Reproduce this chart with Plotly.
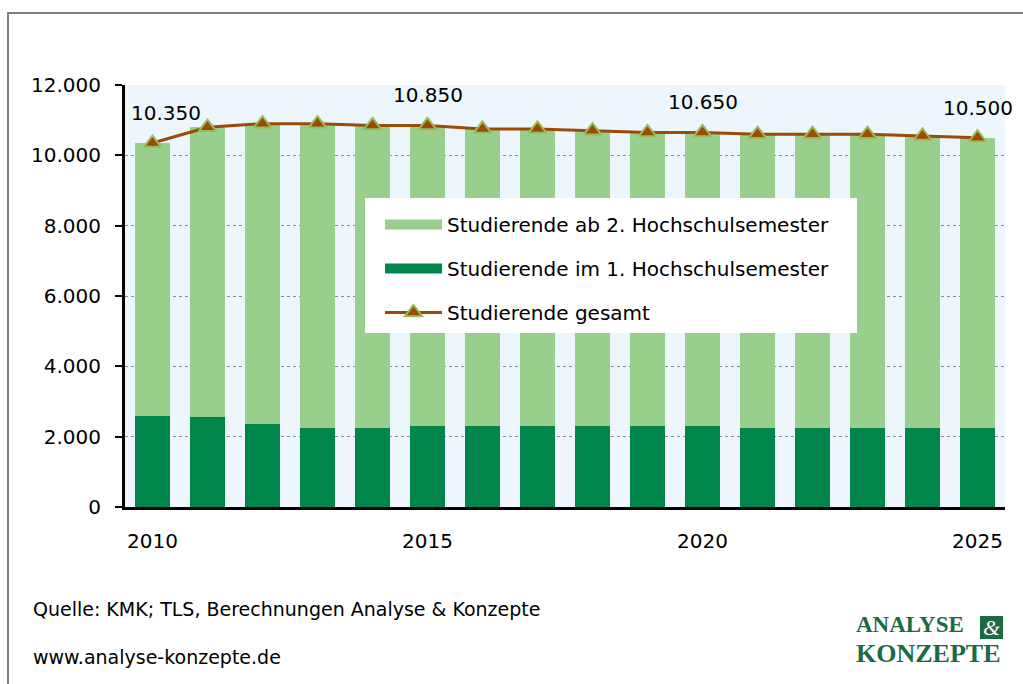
import plotly.graph_objects as go

years = [str(y) for y in range(2010, 2026)]
total = [10350, 10800, 10900, 10900, 10850, 10850, 10750, 10750, 10700, 10650,
         10650, 10600, 10600, 10600, 10550, 10500]
first_sem = [2600, 2550, 2350, 2250, 2250, 2300, 2300, 2300, 2300, 2300,
             2300, 2250, 2250, 2250, 2250, 2250]
higher_sem = [t - f for t, f in zip(total, first_sem)]
label_years = ["2010", "2015", "2020", "2025"]
y_ticks = [0, 2000, 4000, 6000, 8000, 10000, 12000]
y_ticktext = ["0", "2.000", "4.000", "6.000", "8.000", "10.000", "12.000"]

FONT = "DejaVu Sans"
LIGHT = "#99CF8C"
DARK = "#00854A"
BROWN = "#9C4A08"
OLIVE = "#9BBB59"
LOGO = "#1B6A46"

NAME_HI = "Studierende ab 2. Hochschulsemester"
NAME_LO = "Studierende im 1. Hochschulsemester"
NAME_TOT = "Studierende gesamt"

def px(xp):
    return (xp - 125) / 880

def py(yp):
    return (507 - yp) / 422

fig = go.Figure()
fig.add_trace(go.Bar(x=years, y=first_sem, name=NAME_LO, showlegend=False,
                     marker=dict(color=DARK, line=dict(width=0))))
fig.add_trace(go.Bar(x=years, y=higher_sem, name=NAME_HI, showlegend=False,
                     marker=dict(color=LIGHT, line=dict(width=0))))
fig.add_trace(go.Scatter(x=years, y=total, name=NAME_TOT, mode="lines+markers",
                         line=dict(color=BROWN, width=3),
                         marker=dict(symbol="triangle-up", size=15, color=BROWN,
                                     line=dict(color=OLIVE, width=2)),
                         legendrank=3, legendgroup="c"))
# legend keys for the bar series (wide rectangles like the original)
fig.add_trace(go.Scatter(x=[None], y=[None], name=NAME_HI, mode="lines",
                         line=dict(color=LIGHT, width=14), legendrank=1, legendgroup="a"))
fig.add_trace(go.Scatter(x=[None], y=[None], name=NAME_LO, mode="lines",
                         line=dict(color=DARK, width=14), legendrank=2, legendgroup="b"))

def fmt(v):
    return f"{v:,}".replace(",", ".")

for i, (yr, v) in enumerate(zip(years, total)):
    if yr in label_years:
        fig.add_annotation(x=i, y=v, text=fmt(v), showarrow=False,
                           yshift=30, xshift=13 if yr == "2010" else 0,
                           font=dict(family=FONT, size=20, color="black"))

# legend background box
fig.add_shape(type="rect", xref="paper", yref="paper",
              x0=px(365), x1=px(857), y0=py(333), y1=py(198),
              fillcolor="white", line=dict(width=0), layer="above")

# footer
fig.add_annotation(xref="paper", yref="paper", x=px(31), y=py(609), xanchor="left",
                   yanchor="middle", showarrow=False,
                   text="Quelle: KMK; TLS, Berechnungen Analyse &amp; Konzepte",
                   font=dict(family=FONT, size=19, color="black"))
fig.add_annotation(xref="paper", yref="paper", x=px(31), y=py(657), xanchor="left",
                   yanchor="middle", showarrow=False, text="www.analyse-konzepte.de",
                   font=dict(family=FONT, size=19, color="black"))
# logo
fig.add_annotation(xref="paper", yref="paper", x=px(854), y=py(640),
                   xanchor="left", yanchor="middle", showarrow=False, align="left",
                   text="<b>ANALYSE</b><br><b><span style='font-size:26px'>KONZEPTE</span></b>",
                   font=dict(family="Liberation Serif", size=23, color=LOGO))
fig.add_shape(type="rect", xref="paper", yref="paper",
              x0=px(980), x1=px(1003), y0=py(639), y1=py(616),
              fillcolor=LOGO, line=dict(width=0), layer="above")
fig.add_annotation(xref="paper", yref="paper", x=px(991.5), y=py(627.5),
                   xanchor="center", yanchor="middle", showarrow=False, text="<i>&amp;</i>",
                   font=dict(family="Liberation Serif", size=22, color="white"))

# outer frame
fig.add_shape(type="rect", xref="paper", yref="paper",
              x0=px(8), x1=2, y0=-2, y1=py(13),
              line=dict(color="#808080", width=2), fillcolor="rgba(0,0,0,0)", layer="below")

fig.update_layout(
    width=1023, height=684,
    margin=dict(l=125, r=18, t=85, b=177),
    barmode="stack", bargap=0.38,
    plot_bgcolor="#EDF5FD", paper_bgcolor="white",
    font=dict(family=FONT, size=20, color="black"),
    showlegend=True,
    legend=dict(x=px(380), y=py(205), xanchor="left", yanchor="top",
                bgcolor="rgba(0,0,0,0)", borderwidth=0, traceorder="grouped",
                font=dict(family=FONT, size=20, color="black"),
                tracegroupgap=15, itemwidth=57),
    xaxis=dict(type="category", range=[-0.5, 15.5], tickvals=label_years,
               ticktext=label_years, ticks="", showgrid=False,
               showline=True, linecolor="black", linewidth=3,
               tickfont=dict(family=FONT, size=20), ticklabelstandoff=14),
    yaxis=dict(range=[0, 12000], tickvals=y_ticks, ticktext=y_ticktext,
               ticks="outside", ticklen=7, tickwidth=2, tickcolor="black",
               showline=True, linecolor="black", linewidth=3,
               showgrid=True, gridcolor="#8C8C8C", griddash="dot", gridwidth=1,
               zeroline=False, tickfont=dict(family=FONT, size=20),
               ticklabelstandoff=10),
)

fig.write_html("out.html", config={"displayModeBar": False},
               post_script="document.body.style.margin='0px';")
